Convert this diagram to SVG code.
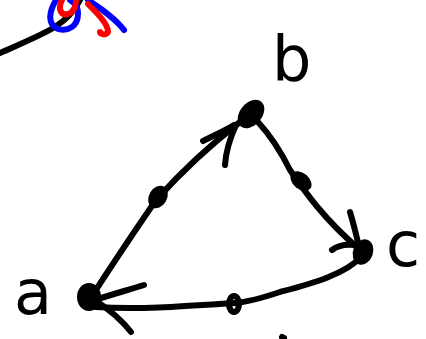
<svg xmlns="http://www.w3.org/2000/svg" width="426" height="339" viewBox="0 0 426 339">
<style>
.s{fill:none;stroke:#000;stroke-width:6;stroke-linecap:round;stroke-linejoin:round}
.lbl{font-family:"DejaVu Sans","Liberation Sans",sans-serif;font-size:62px;fill:#000}
.dot{fill:#000}
</style>
<rect width="426" height="339" fill="#fff"/>
<g id="scribble">
<path class="s" d="M0,53 C20,44 40,36 55,27 C66,20 74,12 80,0"/>
<path d="M56,0 C50,10 46,24 58,29 C68,32 78,26 78,14 C78,6 74,2 70,0" fill="none" stroke="#0000ff" stroke-width="6" stroke-linecap="round"/>
<path d="M88,0 C100,8 115,18 124,30" fill="none" stroke="#0000ff" stroke-width="6" stroke-linecap="round"/>
<path d="M62,0 C58,8 60,16 68,14 C74,12 76,6 76,0" fill="none" stroke="#ff0000" stroke-width="6" stroke-linecap="round"/>
<path d="M88,4 C98,14 108,24 108,32 C106,36 100,34 100,32" fill="none" stroke="#ff0000" stroke-width="6" stroke-linecap="round"/>
</g>
<g id="connectors">
<path class="s" d="M92,296 C110,268 130,238 156,200 C185,168 210,145 240,122"/>
<ellipse class="dot" cx="158" cy="197" rx="9" ry="12" transform="rotate(30 158 197)"/>
<path class="s" d="M203,141 C215,135 226,130 234,125 M225,165 C226,150 230,138 236,125"/>
<path class="s" d="M258,122 C270,135 280,150 290,170 C305,192 325,220 358,248"/>
<ellipse class="dot" cx="301" cy="181" rx="12" ry="8" transform="rotate(40 301 181)"/>
<path class="s" d="M350,212 C354,225 356,235 359,246 M332,250 C340,244 350,244 360,246"/>
<path class="s" d="M362,256 C345,275 310,284 280,292 C265,297 250,302 235,303 C190,306 140,310 96,307"/>
<ellipse cx="234" cy="304" rx="5" ry="8" fill="none" stroke="#000" stroke-width="6"/>
<path class="s" d="M95,300 C110,295 128,290 144,285 M96,301 C110,310 120,318 131,332"/>
<path class="s" d="M282,337 L284,338"/>
</g>
<g id="node-a">
<ellipse class="dot" cx="89" cy="297" rx="12" ry="14"/>
<text class="lbl" x="14" y="314">a</text>
</g>
<g id="node-b">
<ellipse class="dot" cx="251" cy="114" rx="11" ry="16" transform="rotate(40 251 114)"/>
<text class="lbl" x="272" y="80">b</text>
</g>
<g id="node-c">
<ellipse class="dot" cx="363" cy="252" rx="10" ry="13" transform="rotate(20 363 252)"/>
<text class="lbl" x="386" y="266">c</text>
</g>
</svg>
